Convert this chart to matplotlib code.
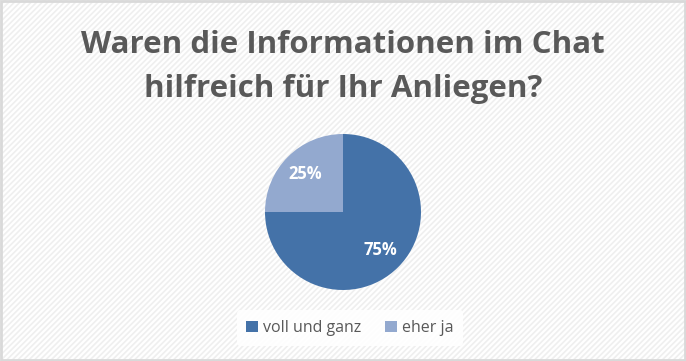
import matplotlib.pyplot as plt
from matplotlib.patches import Rectangle, Patch

# data
labels = ["voll und ganz", "eher ja"]
values = [75, 25]
colors = ["#4472A8", "#93A9CF"]
title = "Waren die Informationen im Chat\nhilfreich für Ihr Anliegen?"

W, H = 686, 361
plt.rcParams['font.family'] = ['Open Sans', 'DejaVu Sans']
plt.rcParams['hatch.linewidth'] = 1.2
plt.rcParams['hatch.color'] = '#EFEFEF'

fig = plt.figure(figsize=(W / 100, H / 100), dpi=100)
fig.patch.set_facecolor('white')

# background with diagonal stripes + border
bg = Rectangle((0, 0), 1, 1, transform=fig.transFigure, facecolor='white',
               edgecolor='#EFEFEF', hatch='//////', linewidth=0, zorder=-2)
fig.patches.append(bg)
border = Rectangle((0.002, 0.003), 0.996, 0.994, transform=fig.transFigure,
                   facecolor='none', edgecolor='#D9D9D9', linewidth=2, zorder=5)
fig.patches.append(border)

# title
fig.text(343 / W, 1 - 67 / H, title, ha='center', va='center', fontsize=22.5,
         fontweight='bold', color='#595959', linespacing=1.6)

# pie
cx, cy, r = 343, 212, 78
ax = fig.add_axes([(cx - r) / W, (H - cy - r) / H, 2 * r / W, 2 * r / H])
wedges, texts, autotexts = ax.pie(values, colors=colors, startangle=90,
                                  counterclock=False, autopct='%d%%',
                                  pctdistance=0.68,
                                  textprops=dict(color='white', fontsize=12,
                                                 fontweight='bold'))
ax.set_xlim(-1, 1)
ax.set_ylim(-1, 1)
ax.set_aspect('equal')

# legend
handles = [Patch(facecolor=c, edgecolor='none') for c in colors]
leg = fig.legend(handles, labels, loc='center', bbox_to_anchor=(350 / W, 1 - 328 / H),
                 ncol=2, frameon=True, fontsize=11.5, handlelength=0.7,
                 handleheight=0.7, handletextpad=0.35, columnspacing=1.5,
                 borderpad=0.6)
leg.get_frame().set_facecolor('white')
leg.get_frame().set_edgecolor('none')
leg.get_frame().set_alpha(0.9)
for t in leg.get_texts():
    t.set_color('#595959')

fig.savefig('out.png', dpi=100, facecolor=fig.get_facecolor())
